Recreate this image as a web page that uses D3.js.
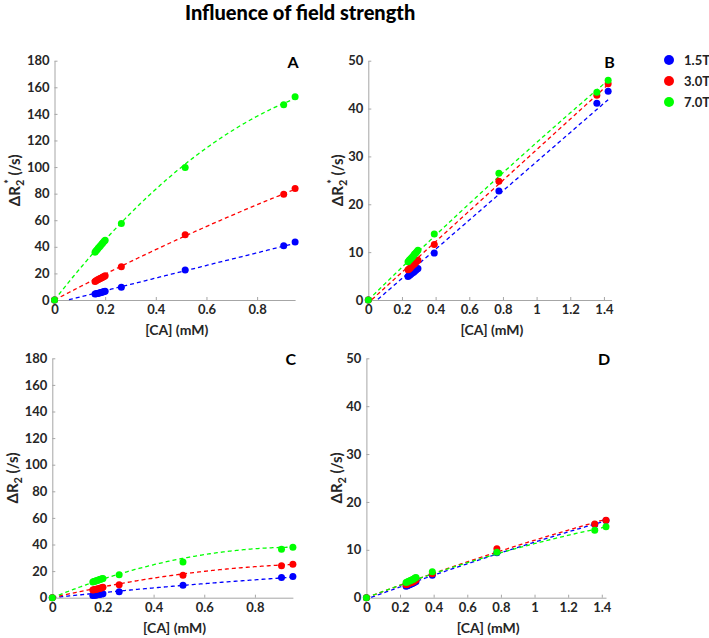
<!DOCTYPE html>
<html><head><meta charset="utf-8">
<script src="https://cdn.jsdelivr.net/npm/d3@7"></script>
<style>body{margin:0;background:#fff} svg text{font-family:Lato,"Open Sans",sans-serif;font-weight:bold}</style>
</head><body><svg id="c" width="709" height="638"></svg>
<script>
// ---------- data ----------
const fieldStrengths = ["1.5T", "3.0T", "7.0T"];
const seriesColors = ["#0000ff", "#ff0000", "#00ff00"];

const concAC = [0, 0.160, 0.164, 0.169, 0.173, 0.178, 0.182, 0.187, 0.191, 0.196, 0.200, 0.264, 0.516, 0.905, 0.950];
const concBD = [0, 0.236, 0.243, 0.249, 0.256, 0.262, 0.269, 0.275, 0.282, 0.288, 0.295, 0.392, 0.776, 1.358, 1.425];

const dR2sA_15 = [0, 4.5, 4.7, 4.9, 5.1, 5.3, 5.6, 5.8, 6.0, 6.3, 6.6, 9.6, 22.5, 40.9, 43.6];
const dR2sA_30 = [0, 14.0, 14.5, 15.0, 15.4, 15.9, 16.4, 16.8, 17.3, 17.7, 18.2, 25.0, 49.0, 79.5, 83.8];
const dR2sA_70 = [0, 36.0, 37.1, 38.0, 39.2, 40.1, 41.0, 42.2, 43.0, 44.1, 45.0, 57.5, 99.6, 146.8, 152.8];

const dR2sB_15 = [0, 4.9, 5.1, 5.3, 5.5, 5.7, 5.8, 6.0, 6.2, 6.4, 6.6, 9.8, 22.8, 41.1, 43.6];
const dR2sB_30 = [0, 6.3, 6.5, 6.7, 7.0, 7.2, 7.4, 7.6, 7.9, 8.1, 8.3, 11.6, 24.8, 42.8, 45.2];
const dR2sB_70 = [0, 8.0, 8.3, 8.5, 8.8, 9.0, 9.3, 9.6, 9.8, 10.1, 10.4, 13.8, 26.5, 43.4, 45.9];

const dR2C_15 = [0, 1.6, 1.8, 1.9, 2.1, 2.2, 2.4, 2.5, 2.7, 2.9, 3.0, 4.4, 9.4, 15.1, 15.9];
const dR2C_30 = [0, 5.8, 6.0, 6.2, 6.4, 6.6, 6.8, 7.0, 7.3, 7.5, 7.8, 9.8, 16.9, 24.1, 25.2];
const dR2C_70 = [0, 11.8, 12.1, 12.4, 12.7, 13.0, 13.3, 13.6, 13.9, 14.2, 14.5, 17.3, 26.8, 36.5, 38.0];

const dR2D_15 = [0, 2.4, 2.5, 2.6, 2.7, 2.8, 2.9, 3.0, 3.1, 3.3, 3.4, 4.7, 9.4, 15.3, 16.1];
const dR2D_30 = [0, 2.7, 2.8, 2.9, 3.0, 3.1, 3.2, 3.3, 3.4, 3.6, 3.7, 5.0, 10.2, 15.4, 16.2];
const dR2D_70 = [0, 3.2, 3.3, 3.4, 3.5, 3.6, 3.7, 3.8, 3.9, 4.1, 4.2, 5.4, 9.5, 14.1, 14.8];

// fitted curves: y = c0 + c1*x + c2*x^2
const fitA_15 = [-2.5, 47.5, 0],   fitA_30 = [0, 100, -13],    fitA_70 = [0, 244, -89];
const fitB_15 = [-1.6, 30.5, 0],   fitB_30 = [-0.6, 32, 0],    fitB_70 = [0, 34.5, -1.6];
const fitC_15 = [0, 20, -4],       fitC_30 = [0, 44.6, -19.3], fitC_70 = [0, 78, -40];
const fitD_15 = [-0.3, 12.9, -1.0], fitD_30 = [0, 13.2, -1.2], fitD_70 = [0, 13.5, -2.2];

const xTicksAC = [0, 0.2, 0.4, 0.6, 0.8];
const xTicksBD = [0, 0.2, 0.4, 0.6, 0.8, 1, 1.2, 1.4];
const yTicksAC = [0, 20, 40, 60, 80, 100, 120, 140, 160, 180];
const yTicksBD = [0, 10, 20, 30, 40, 50];
const panelLetters = ["A", "B", "C", "D"];
const chartTitle = "Influence of field strength";
const xAxisTitle = "[CA] (mM)";

// ---------- layout ----------
const svg = d3.select("#c");
svg.append("rect").attr("width", 709).attr("height", 638).attr("fill", "#fff");

const panels = [
  {conc: concAC, ys: [dR2sA_15, dR2sA_30, dR2sA_70], fits: [fitA_15, fitA_30, fitA_70],
   xd: [0, 0.95], yd: [0, 180], xr: [54.5, 295.1], yr: [300, 60.7], xt: xTicksAC, yt: yTicksAC, star: true, labX: 15},
  {conc: concBD, ys: [dR2sB_15, dR2sB_30, dR2sB_70], fits: [fitB_15, fitB_30, fitB_70],
   xd: [0, 1.445], yd: [0, 50], xr: [368.3, 611.5], yr: [300, 60.7], xt: xTicksBD, yt: yTicksBD, star: true, labX: 338},
  {conc: concAC, ys: [dR2C_15, dR2C_30, dR2C_70], fits: [fitC_15, fitC_30, fitC_70],
   xd: [0, 0.95], yd: [0, 180], xr: [52.3, 292.9], yr: [597.7, 358.3], xt: xTicksAC, yt: yTicksAC, star: false, labX: 13},
  {conc: concBD, ys: [dR2D_15, dR2D_30, dR2D_70], fits: [fitD_15, fitD_30, fitD_70],
   xd: [0, 1.425], yd: [0, 50], xr: [366.4, 606], yr: [597.7, 358.3], xt: xTicksBD, yt: yTicksBD, star: false, labX: 337}
];

const axisColor = "#a6a6a6", textColor = "#262626";

panels.forEach((p, pi) => {
  const x = d3.scaleLinear().domain(p.xd).range(p.xr);
  const y = d3.scaleLinear().domain(p.yd).range(p.yr);
  const g = svg.append("g");

  const xa = g.append("g").attr("transform", `translate(0,${p.yr[0]})`)
    .call(d3.axisBottom(x).tickValues(p.xt).tickFormat(d3.format("~g")).tickSizeInner(-3).tickSizeOuter(0).tickPadding(5));
  const ya = g.append("g").attr("transform", `translate(${p.xr[0]},0)`)
    .call(d3.axisLeft(y).tickValues(p.yt).tickSizeInner(-3).tickSizeOuter(0).tickPadding(5));
  [xa, ya].forEach(a => {
    a.select(".domain").attr("stroke", axisColor).attr("stroke-width", 1);
    a.selectAll(".tick line").attr("stroke", axisColor);
    a.selectAll(".tick text").attr("fill", textColor).style("font-size", "13px").style("font-family", "Lato, sans-serif").style("font-weight", "bold");
  });

  // x title
  g.append("text").attr("x", (p.xr[0] + p.xr[1]) / 2 + 2).attr("y", p.yr[0] + 35)
    .attr("text-anchor", "middle").attr("fill", textColor).style("font-size", "14px").text(xAxisTitle);

  // y title
  const cy = (p.yr[0] + p.yr[1]) / 2;
  const yt = g.append("text").attr("transform", `translate(${p.labX},${cy}) rotate(-90)`)
    .attr("text-anchor", "middle").attr("dy", "0.35em").attr("fill", textColor).style("font-size", "15px");
  yt.append("tspan").text("ΔR");
  yt.append("tspan").attr("dy", 4).style("font-size", "11px").text("2");
  if (p.star) {
    yt.append("tspan").attr("dy", -11).attr("dx", -4).style("font-size", "11px").text("*");
    yt.append("tspan").attr("dy", 7).text(" (/s)");
  } else {
    yt.append("tspan").attr("dy", -4).text(" (/s)");
  }

  // panel letter
  g.append("text").attr("x", p.xr[1] - 2).attr("y", p.yr[1] + 7)
    .attr("text-anchor", "middle").attr("fill", "#000").style("font-size", "16px").text(panelLetters[pi]);

  // fit lines
  const xEnd = p.conc[p.conc.length - 1];
  const samples = d3.range(0, 201).map(i => xEnd * i / 200);
  p.fits.forEach((c, si) => {
    const pts = samples.map(v => [v, c[0] + c[1] * v + c[2] * v * v]).filter(d => d[1] >= 0);
    g.append("path").datum(pts)
      .attr("d", d3.line().x(d => x(d[0])).y(d => y(d[1])))
      .attr("fill", "none").attr("stroke", seriesColors[si]).attr("stroke-width", 1.3)
      .attr("stroke-dasharray", "4,3");
  });

  // points
  p.ys.forEach((vals, si) => {
    g.append("g").selectAll("circle").data(vals).join("circle")
      .attr("cx", (d, i) => x(p.conc[i])).attr("cy", d => y(d)).attr("r", 3.5)
      .attr("fill", seriesColors[si]);
  });
});

// title
svg.append("text").attr("x", 185).attr("y", 20).attr("fill", "#000")
  .style("font-size", "20px").style("font-weight", "900").text(chartTitle);

// legend
const legY = [60, 81, 102];
fieldStrengths.forEach((f, i) => {
  svg.append("circle").attr("cx", 669).attr("cy", legY[i]).attr("r", 5).attr("fill", seriesColors[i]);
  svg.append("text").attr("x", 684).attr("y", legY[i]).attr("dy", "0.35em").attr("fill", "#222")
    .style("font-size", "13px").text(f);
});
</script></body></html>
